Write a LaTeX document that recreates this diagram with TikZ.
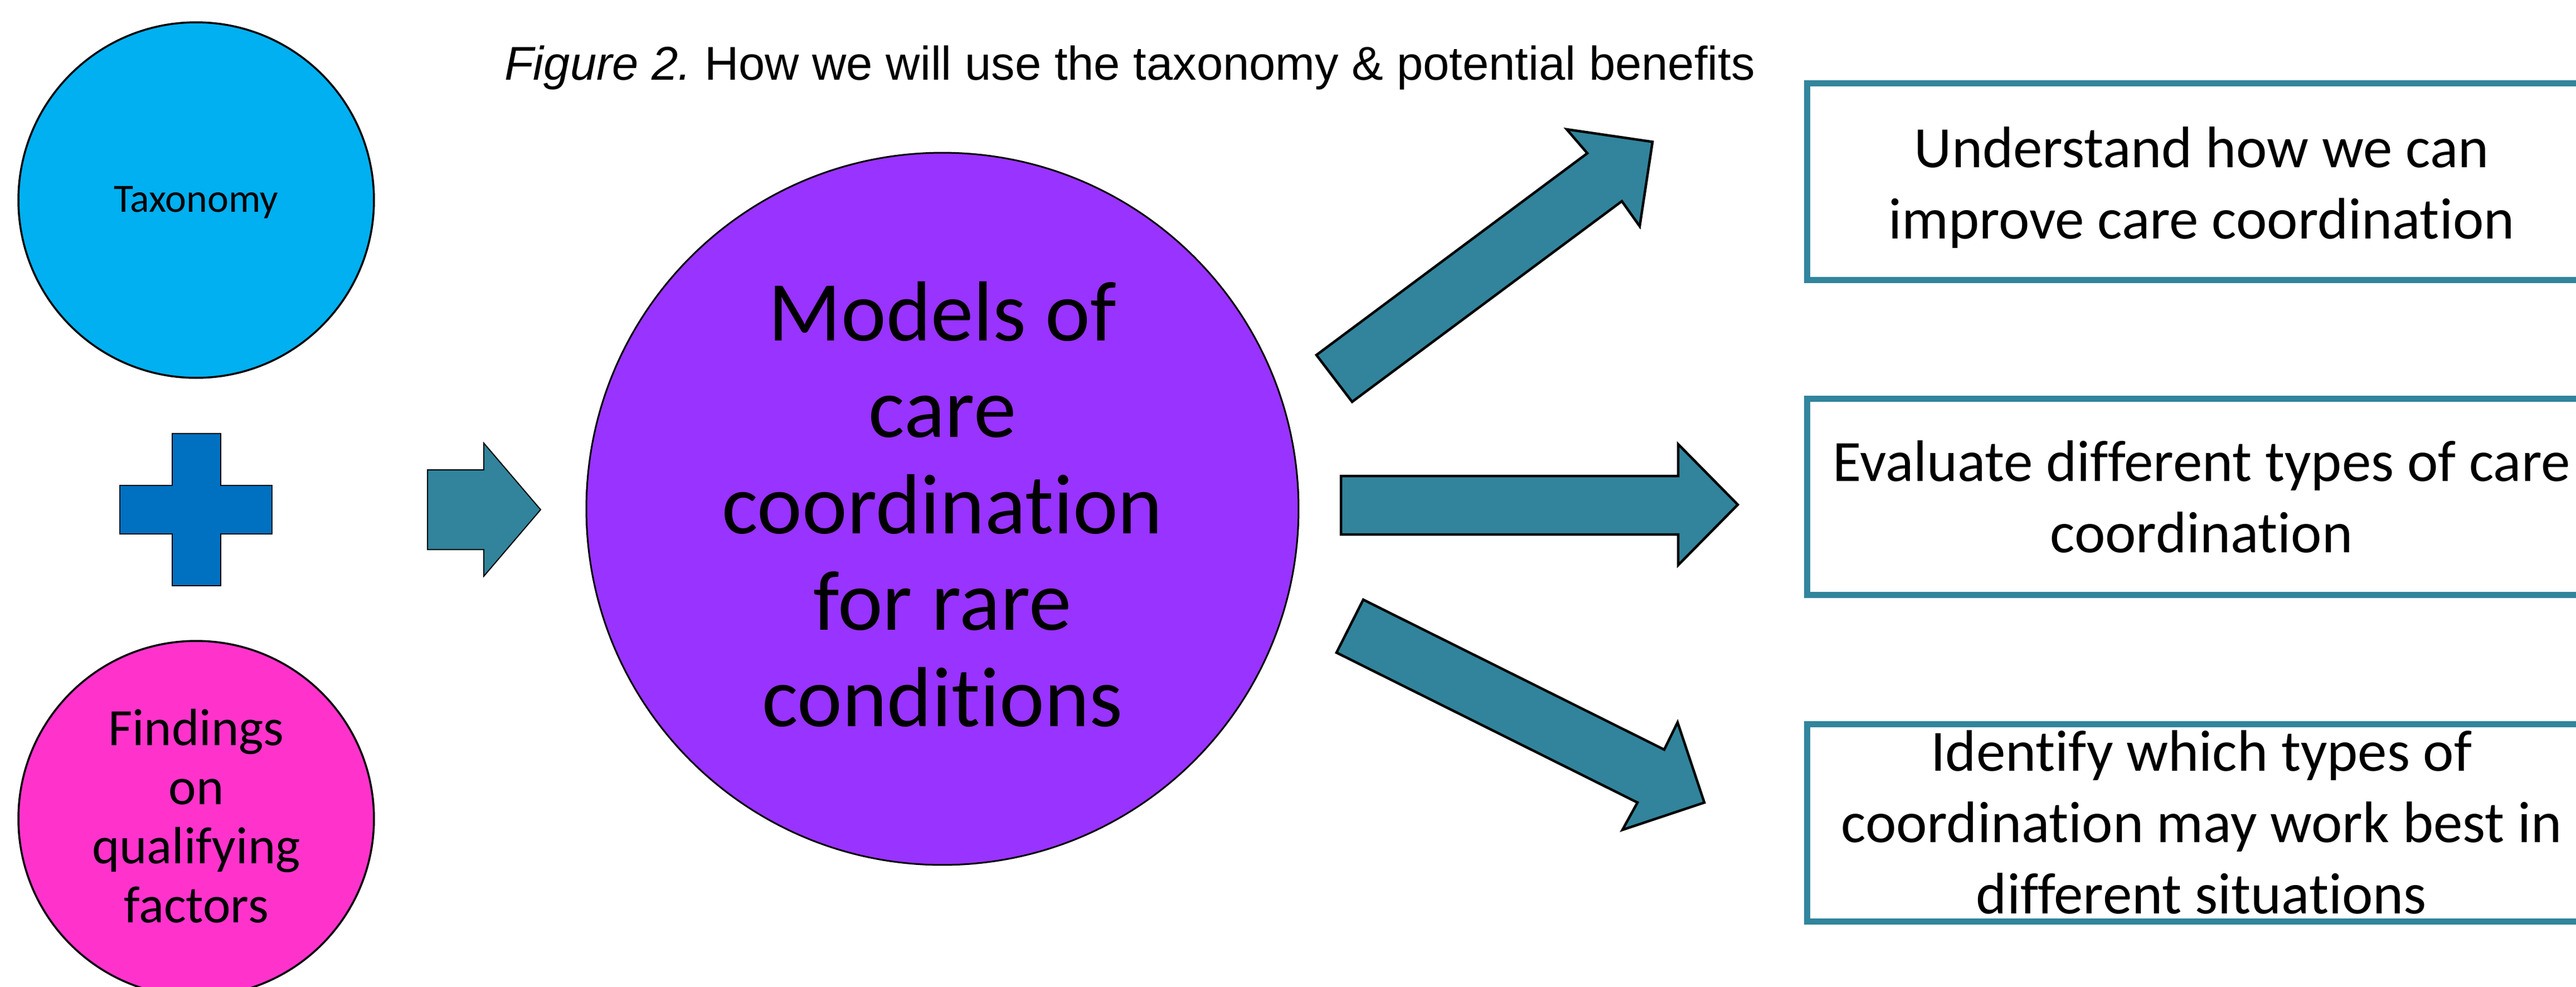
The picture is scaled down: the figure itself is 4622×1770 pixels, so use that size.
\documentclass[tikz,border=0pt]{standalone}
\usepackage{fontspec}
\setmainfont{Carlito}[Ligatures=NoCommon]
\newfontfamily\arialfont{Liberation Sans}[Ligatures=NoCommon]
\frenchspacing
\definecolor{taxblue}{HTML}{00B0F0}
\definecolor{findpink}{HTML}{FF33CC}
\definecolor{modpurple}{HTML}{9933FF}
\definecolor{plusblue}{HTML}{0070C0}
\definecolor{arrowteal}{HTML}{31849B}
\definecolor{boxteal}{HTML}{31859C}
\tikzset{
  bubble/.style={circle, draw=black, line width=0.35pt, inner sep=0pt, minimum size=63.8pt},
  bigbubble/.style={circle, draw=black, line width=0.3pt, inner sep=0pt, minimum size=127.8pt, fill=modpurple},
  benefit/.style={rectangle, draw=boxteal, line width=1.1pt, inner sep=0pt, minimum width=141.6pt},
  btext/.style={anchor=base, inner sep=0pt, align=center, font=\fontsize{10.5pt}{12.8pt}\selectfont},
  blockarrow/.style={fill=arrowteal, draw=black, line width=0.45pt, line join=miter},
  smallarrow/.style={fill=arrowteal, draw=black, line width=0.2pt, line join=miter},
}
\begin{document}
\begin{tikzpicture}[x=0.1pt,y=-0.1pt]
\useasboundingbox (0,0) rectangle (4622,1770);
\clip (0,0) rectangle (4622,1770);
\fill[white] (0,0) rectangle (4622,1770);

% title
\node[anchor=base west, inner sep=0pt, font=\arialfont\fontsize{8.5pt}{10pt}\selectfont] (title) at (903,143)
  {\textit{Figure 2.} How we will use the taxonomy \& potential benefits};

% left circles
\node[bubble, fill=taxblue] (tax) at (352,359) {};
\node[anchor=base, inner sep=0pt, font=\fontsize{7.2pt}{8.6pt}\selectfont] (taxtext) at (352,380) {Taxonomy};
\node[bubble, fill=findpink] (find) at (352,1469) {};
\node[anchor=base, inner sep=0pt, align=center, font=\fontsize{9.4pt}{10.6pt}\selectfont] (findtext) at (352,1655)
  {Findings\\on\\qualifying\\factors};

% plus
\draw[fill=plusblue, draw=black, line width=0.15pt] (309,778) -- (396,778) -- (396,871) -- (488,871) -- (488,958) -- (396,958) -- (396,1051) -- (309,1051) -- (309,958) -- (215,958) -- (215,871) -- (309,871) -- cycle;

% left arrow
\draw[smallarrow] (767,843) -- (868,843) -- (868,795) -- (970,914.5) -- (868,1034) -- (868,986) -- (767,986) -- cycle;

% central circle
\node[bigbubble] (models) at (1691,913) {};
\node[anchor=base, inner sep=0pt, align=center, font=\fontsize{15.3pt}{17.3pt}\selectfont] (modtext) at (1691,1303)
  {Models of\\care\\coordination\\for rare\\conditions};

% right arrows
\draw[blockarrow] (2362,637) -- (2848,275) -- (2811,232) -- (2965,254.5) -- (2942,406) -- (2910,361) -- (2426,721) -- cycle;
\draw[blockarrow] (2406,854) -- (3011,854) -- (3011,797) -- (3118,905.5) -- (3011,1014) -- (3011,959) -- (2406,959) -- cycle;
\draw[blockarrow] (2446,1076) -- (2986,1345) -- (3010,1296) -- (3058,1440) -- (2911,1489) -- (2938,1440) -- (2398,1171) -- cycle;

% benefit boxes
\node[benefit, minimum height=35.3pt] (b1) at (3950,325.5) {};
\node[btext] (b1text) at (3950,428.6) {Understand how we can\\improve care coordination};
\node[benefit, minimum height=35.2pt] (b2) at (3950,891) {};
\node[btext] (b2text) at (3950,991) {Evaluate different types of care\\coordination};
\node[benefit, minimum height=35.4pt] (b3) at (3950,1476) {};
\node[btext] (b3text) at (3950,1639) {Identify which types of\\coordination may work best in\\different situations};
\end{tikzpicture}
\end{document}
